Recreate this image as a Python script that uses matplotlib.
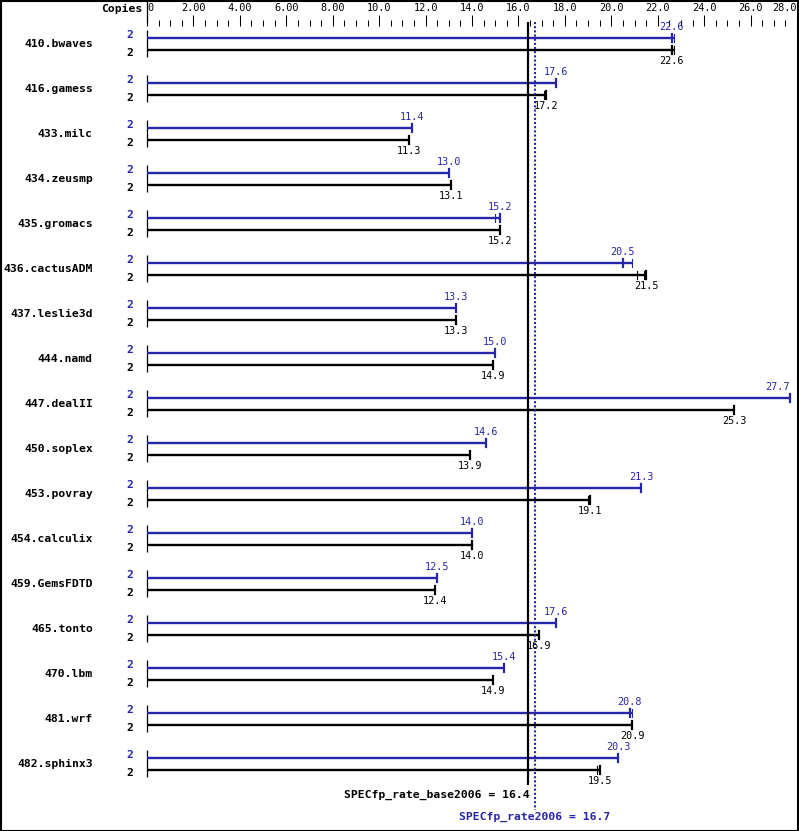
import matplotlib
matplotlib.use("Agg")
import matplotlib.pyplot as plt
from matplotlib.patches import Rectangle
from matplotlib.ticker import MultipleLocator, FixedLocator

benchmarks = ["410.bwaves", "416.gamess", "433.milc", "434.zeusmp", "435.gromacs",
              "436.cactusADM", "437.leslie3d", "444.namd", "447.dealII", "450.soplex",
              "453.povray", "454.calculix", "459.GemsFDTD", "465.tonto", "470.lbm",
              "481.wrf", "482.sphinx3"]
copies_peak = [2] * 17
copies_base = [2] * 17
peak = [22.6, 17.6, 11.4, 13.0, 15.2, 20.5, 13.3, 15.0, 27.7, 14.6,
        21.3, 14.0, 12.5, 17.6, 15.4, 20.8, 20.3]
base = [22.6, 17.2, 11.3, 13.1, 15.2, 21.5, 13.3, 14.9, 25.3, 13.9,
        19.1, 14.0, 12.4, 16.9, 14.9, 20.9, 19.5]
# other run values (thin tick marks)
peak_runs = {0: [22.7], 4: [15.0], 5: [20.9], 15: [20.9]}
base_runs = {0: [22.7], 1: [17.1], 5: [21.1, 21.4], 10: [19.0], 16: [19.4]}
base_score = 16.4
peak_score = 16.7
tick_values = [0, 2, 4, 6, 8, 10, 12, 14, 16, 18, 20, 22, 24, 26, 28]
tick_labels = ["0", "2.00", "4.00", "6.00", "8.00", "10.0", "12.0", "14.0", "16.0",
               "18.0", "20.0", "22.0", "24.0", "26.0", "28.0"]

BLUE = "#2626aa"
W, H = 799, 831
fig = plt.figure(figsize=(W / 100, H / 100), dpi=100)
x0px, x1px = 147, 797
top_px = 26
ax = fig.add_axes([x0px / W, 0, (x1px - x0px) / W, (H - top_px) / H])
ax.set_xlim(0, 28)
pxu = 45.0
ylo = (H - 44) / pxu
yhi = (top_px - 44) / pxu
ax.set_ylim(ylo, yhi)
for s in ax.spines.values():
    s.set_visible(False)
ax.yaxis.set_visible(False)
ax.xaxis.tick_top()
ax.xaxis.set_major_locator(FixedLocator(tick_values))
ax.xaxis.set_minor_locator(MultipleLocator(0.5))
ax.set_xticklabels(tick_labels, fontfamily="DejaVu Sans Mono", fontsize=7.4)
ax.tick_params(axis="x", which="major", direction="out", length=7.9, width=0.75, pad=1.5)
ax.tick_params(axis="x", which="minor", direction="out", length=4.3, width=0.75)
lbls = ax.get_xticklabels()
lbls[0].set_ha("left")
lbls[-1].set_ha("right")

off = 6 / pxu
mono = "DejaVu Sans Mono"
for i, name in enumerate(benchmarks):
    yb, yk = i - off, i + off
    # axis segment
    ax.plot([0, 0], [yb - 8 / pxu, yk + 7 / pxu], color="black", lw=0.9, clip_on=False,
            solid_capstyle="butt")
    for y, val, runs, col, vy in [(yb, peak[i], peak_runs.get(i, []), BLUE, yb - 11 / pxu),
                                  (yk, base[i], base_runs.get(i, []), "black", yk + 11 / pxu)]:
        end = max([val] + runs)
        ax.plot([0, end], [y, y], color=col, lw=1.7, solid_capstyle="butt", clip_on=False)
        ax.plot([val, val], [y - 4 / pxu, y + 4 / pxu], color=col, lw=1.6, clip_on=False)
        for r in runs:
            ax.plot([r, r], [y - 4 / pxu, y + 4 / pxu], color=col, lw=0.8, clip_on=False)
        ha = "right" if val > 26.8 else "center"
        ax.text(val, vy, f"{val:.1f}", color=col, fontfamily=mono, fontsize=7.3,
                ha=ha, va="center", clip_on=False)
    ax.text(-2.33, i, name, fontfamily=mono, fontweight="bold", fontsize=8.2,
            ha="right", va="center", clip_on=False)
    ax.text(-0.73, i - 9 / pxu, str(copies_peak[i]), color=BLUE, fontfamily=mono,
            fontweight="bold", fontsize=8.2, ha="center", va="center", clip_on=False)
    ax.text(-0.73, i + 9 / pxu, str(copies_base[i]), color="black", fontfamily=mono,
            fontweight="bold", fontsize=8.2, ha="center", va="center", clip_on=False)

# top axis segment
ax.plot([0, 0], [(0 - 44) / pxu, (22 - 44) / pxu], color="black", lw=0.9, clip_on=False)
ax.text(-0.2, (9 - 44) / pxu, "Copies", fontfamily=mono, fontweight="bold", fontsize=8.2,
        ha="right", va="center", clip_on=False)

# reference lines
ax.plot([base_score, base_score], [(22 - 44) / pxu, (785 - 44) / pxu], color="black",
        lw=1.6, clip_on=False, solid_capstyle="butt")
ax.plot([peak_score, peak_score], [(22 - 44) / pxu, (810 - 44) / pxu], color=BLUE,
        lw=1.5, ls=(0, (1, 1)), clip_on=False)
ax.text(base_score + 0.1, (795 - 44) / pxu, f"SPECfp_rate_base2006 = {base_score:.1f}",
        fontfamily=mono, fontweight="bold", fontsize=8.2, ha="right", va="center",
        clip_on=False)
ax.text(peak_score, (817 - 44) / pxu, f"SPECfp_rate2006 = {peak_score:.1f}", color=BLUE,
        fontfamily=mono, fontweight="bold", fontsize=8.2, ha="center", va="center",
        clip_on=False)

fig.patches.append(Rectangle((0.5 / W, 0.5 / H), 1 - 1.5 / W, 1 - 1.5 / H,
                             transform=fig.transFigure, fill=False, edgecolor="black",
                             lw=1.5))
fig.savefig("out.png", dpi=100)
